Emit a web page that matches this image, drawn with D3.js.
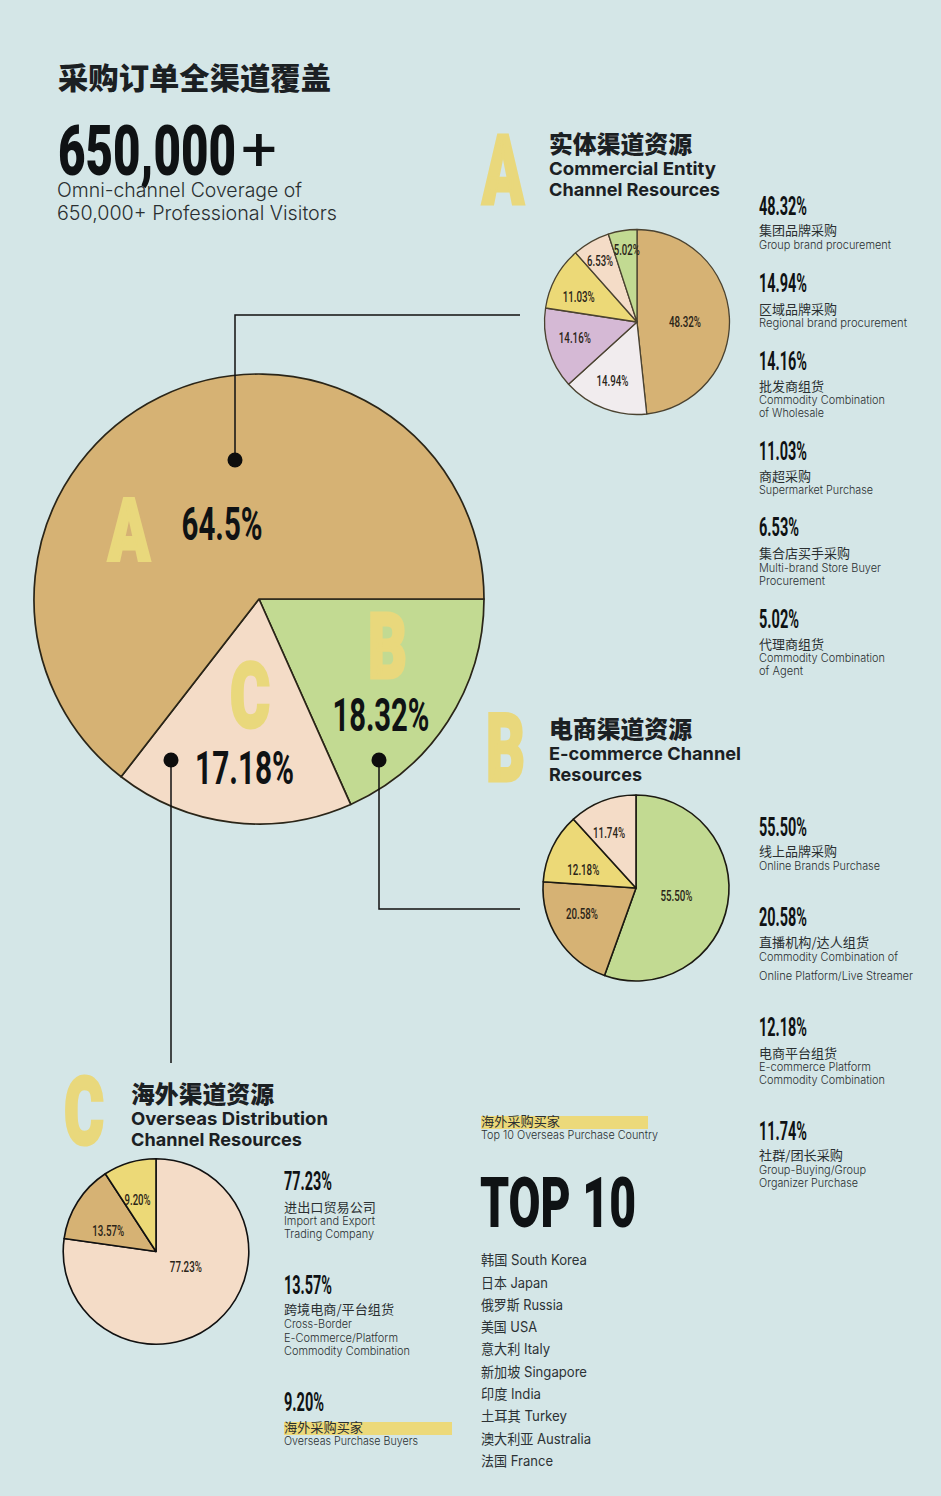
<!DOCTYPE html>
<html lang="zh-CN">
<head>
<meta charset="utf-8">
<title>采购订单全渠道覆盖</title>
<script src="https://cdn.jsdelivr.net/npm/d3@7"></script>
<style>
  html, body { margin: 0; background: #d4e6e7; }
  svg { display: block; }
  text { fill: #1b2023; }
  .num { font-family: "Roboto", sans-serif; font-weight: 700; fill: #0f1214; }
  .huge { font-family: "Roboto", sans-serif; font-weight: 900; fill: #0f1214; }
  .small { font-weight: 500; fill: #2a2418; }
  .plus { font-family: "Roboto", sans-serif; font-weight: 400; fill: #0f1214; }
  .letter { font-family: "Roboto", sans-serif; font-weight: 900; fill: #e9d87c; stroke: #e9d87c; stroke-width: 3; stroke-linejoin: miter; }
  .zh { font-family: "Noto Sans CJK SC", sans-serif; font-weight: 400; fill: #2a2f31; }
  .zhb { font-family: "Noto Sans CJK SC", sans-serif; font-weight: 900; }
  .en { font-family: "Inter", "Noto Sans CJK SC", sans-serif; font-weight: 400; fill: #2c3235; }
  .enl { font-family: "Inter", "Noto Sans CJK SC", sans-serif; font-weight: 300; fill: #2a2f31; }
  .enb { font-family: "Inter", sans-serif; font-weight: 700; }
</style>
</head>
<body>
<svg id="chart" width="941" height="1496"></svg>
<script>
// data
const mainNames = ['B', 'C', 'A'];
const mainValues = [18.32, 17.18, 64.5];
const mainColors = ['#c2da92', '#f4dcc7', '#d6b274'];

const aValues = [48.32, 14.94, 14.16, 11.03, 6.53, 5.02];
const aColors = ['#d6b274', '#f1ecee', '#d5b9d5', '#ecd977', '#f4dcc7', '#c2da92'];
const aZh = ['集团品牌采购', '区域品牌采购', '批发商组货', '商超采购', '集合店买手采购', '代理商组货'];
const aEn = [['Group brand procurement'], ['Regional brand  procurement'], ['Commodity Combination', 'of Wholesale'],
  ['Supermarket Purchase'], ['Multi-brand Store Buyer', 'Procurement'], ['Commodity Combination', 'of Agent']];

const bValues = [55.50, 20.58, 12.18, 11.74];
const bColors = ['#c2da92', '#d6b274', '#ecd977', '#f4dcc7'];
const bZh = ['线上品牌采购', '直播机构/达人组货', '电商平台组货', '社群/团长采购'];
const bEn = [['Online Brands Purchase'], ['Commodity Combination of', 'Online Platform/Live Streamer'],
  ['E-commerce Platform', 'Commodity Combination'], ['Group-Buying/Group', 'Organizer Purchase']];

const cValues = [77.23, 13.57, 9.20];
const cColors = ['#f4dcc7', '#d6b274', '#ecd977'];
const cZh = ['进出口贸易公司', '跨境电商/平台组货', '海外采购买家'];
const cEn = [['Import and Export', 'Trading Company'], ['Cross-Border', 'E-Commerce/Platform', 'Commodity Combination'],
  ['Overseas Purchase Buyers']];

const topZh = ['韩国', '日本', '俄罗斯', '美国', '意大利', '新加坡', '印度', '土耳其', '澳大利亚', '法国'];
const topEn = ['South Korea', 'Japan', 'Russia', 'USA', 'Italy', 'Singapore', 'India', 'Turkey', 'Australia', 'France'];

// layout
const aLayout = { x: 759, rows: [[215, 235, [249]], [292, 314, [327]], [370, 391, [404, 417]], [460, 481, [494]], [536, 558, [572, 585]], [628, 649, [662, 675]]],
  zhEnd: [837, 837, 824, 811, 850, 824], enEnd: [[891], [907], [885, 824], [873], [881, 825], [885, 803]] };
const bLayout = { x: 759, rows: [[836, 856, [870]], [926, 947, [961, 980]], [1036, 1058, [1071, 1084]], [1140, 1160, [1174, 1187]]],
  zhEnd: [837, 869, 837, 843], enEnd: [[880], [898, 913], [871, 885], [866, 858]] };
const cLayout = { x: 284, rows: [[1190, 1212, [1225, 1238]], [1294, 1314, [1328, 1342, 1355]], [1411, 1432, [1445]]],
  zhEnd: [376, 394, 363], enEnd: [[375, 374], [352, 398, 410], [418]] };
const topY = [1265, 1288, 1310, 1332, 1354, 1377, 1399, 1421, 1444, 1466];
const topEnd = [587, 548, 563, 537, 550, 587, 541, 567, 591, 553];

const svg = d3.select('#chart');
svg.append('rect').attr('width', 941).attr('height', 1496).attr('fill', '#d4e6e7');

// text with an exact horizontal extent, the original fonts are narrower than what we have
function put(cls, x, y, size, str, endX) {
  const t = svg.append('text').attr('class', cls).attr('x', x).attr('y', y)
    .attr('font-size', size).text(str);
  if (endX) t.attr('textLength', endX - x).attr('lengthAdjust', 'spacingAndGlyphs');
  return t;
}

function drawPie(opts) {
  const arcs = d3.pie().sort(null).startAngle(opts.start || 0).endAngle((opts.start || 0) + 2 * Math.PI)(opts.values);
  const arc = d3.arc().innerRadius(0).outerRadius(opts.r);
  const g = svg.append('g').attr('transform', `translate(${opts.cx},${opts.cy})`);
  g.selectAll('path').data(arcs).join('path')
    .attr('d', arc)
    .attr('fill', (d, i) => opts.colors[i])
    .attr('stroke', opts.stroke)
    .attr('stroke-width', opts.strokeWidth)
    .attr('stroke-linejoin', 'round');
  // label polar position: [radius, angle offset from slice middle in degrees]
  g.selectAll('text').data(arcs).join('text')
    .attr('class', opts.labelClass)
    .attr('text-anchor', 'middle')
    .attr('font-size', opts.labelSize)
    .attr('textLength', (d, i) => opts.labelWidth[i])
    .attr('lengthAdjust', 'spacingAndGlyphs')
    .attr('x', (d, i) => {
      const a = (d.startAngle + d.endAngle) / 2 + opts.labelPos[i][1] * Math.PI / 180;
      return Math.sin(a) * opts.labelPos[i][0];
    })
    .attr('y', (d, i) => {
      const a = (d.startAngle + d.endAngle) / 2 + opts.labelPos[i][1] * Math.PI / 180;
      return -Math.cos(a) * opts.labelPos[i][0] + opts.labelSize * 0.355;
    })
    .text(d => opts.format(d.value) + '%');
}

function drawLegend(values, zh, en, layout) {
  const fmt = d3.format('.2f');
  values.forEach((v, i) => {
    const str = fmt(v) + '%';
    const row = layout.rows[i];
    put('num', layout.x, row[0], 25, str, layout.x + (str.length === 6 ? 48 : 40));
    put('zh', layout.x, row[1], 13, zh[i], layout.zhEnd[i]);
    en[i].forEach((line, j) => put('enl', layout.x, row[2][j], 11, line, layout.enEnd[i][j]));
  });
}

function connector(points) {
  svg.append('path')
    .attr('d', d3.line()(points))
    .attr('fill', 'none').attr('stroke', '#111').attr('stroke-width', 1.5);
}

function dot(x, y) {
  svg.append('circle').attr('cx', x).attr('cy', y).attr('r', 7.5).attr('fill', '#0d0d0d');
}

// title block
put('zhb', 58, 89, 30, '采购订单全渠道覆盖', 331);
put('huge', 58, 175, 71, '650,000', 236);
put('plus', 241, 170, 62, '+', 277);
put('enl', 57, 197, 19.5, 'Omni-channel Coverage of', 302);
put('enl', 57, 220, 19.5, '650,000+ Professional Visitors', 337);

// main pie
drawPie({
  cx: 259, cy: 599, r: 225, start: Math.PI / 2,
  values: mainValues, colors: mainColors,
  stroke: '#2a2518', strokeWidth: 1.7,
  labelClass: 'num', labelSize: 46, labelWidth: [97, 99, 81],
  labelPos: [[168, 10.5], [169.5, -2], [84, 0]],
  format: d3.format('.2~f')
});
put('letter', 108, 560.5, 88, mainNames[2], 150);
put('letter', 368, 678, 90, mainNames[0], 407);
put('letter', 230, 727, 90, mainNames[1], 270);

// connectors
connector([[520, 315], [235, 315], [235, 460]]);
dot(235, 460);
connector([[520, 909], [379, 909], [379, 760]]);
dot(379, 760);
connector([[171, 1063], [171, 760]]);
dot(171, 760);

// section A
put('letter', 482, 203.5, 96, 'A', 524);
put('zhb', 549, 153, 24, '实体渠道资源', 692);
put('enb', 549, 175, 18, 'Commercial Entity', 716);
put('enb', 549, 196, 18, 'Channel Resources', 720);
drawPie({
  cx: 637, cy: 322, r: 92.5, values: aValues, colors: aColors,
  stroke: '#4a4230', strokeWidth: 1.3,
  labelClass: 'num small', labelSize: 15.5,
  labelWidth: [32, 32, 32, 32, 26, 26],
  labelPos: [[48, 2], [63, 2], [64, 3], [63.5, -5], [72, -1], [73.7, 1]],
  format: d3.format('.2f')
});
drawLegend(aValues, aZh, aEn, aLayout);

// section B
put('letter', 486, 780.5, 94, 'B', 525);
put('zhb', 549, 738, 24, '电商渠道资源', 692);
put('enb', 549, 760, 18, 'E-commerce Channel', 741);
put('enb', 549, 781, 18, 'Resources', 642);
drawPie({
  cx: 636, cy: 888, r: 93, values: bValues, colors: bColors,
  stroke: '#1c1a12', strokeWidth: 1.6,
  labelClass: 'num small', labelSize: 15.5,
  labelWidth: [32, 32, 32, 32],
  labelPos: [[41, 0], [60, 7.5], [56, -6], [62, -4.6]],
  format: d3.format('.2f')
});
drawLegend(bValues, bZh, bEn, bLayout);

// section C
put('letter', 64, 1143.5, 94, 'C', 104);
put('zhb', 131, 1103, 24, '海外渠道资源', 274);
put('enb', 131, 1125, 18, 'Overseas Distribution', 328);
put('enb', 131, 1146, 18, 'Channel Resources', 302);
drawPie({
  cx: 156, cy: 1251.5, r: 92.8, values: cValues, colors: cColors,
  stroke: '#111', strokeWidth: 1.6,
  labelClass: 'num small', labelSize: 15.5,
  labelWidth: [32, 32, 26],
  labelPos: [[33.5, -22], [52, -9], [55, -3]],
  format: d3.format('.2f')
});
svg.append('rect').attr('x', 284).attr('y', 1422).attr('width', 168).attr('height', 13).attr('fill', '#ecd97a');
drawLegend(cValues, cZh, cEn, cLayout);

// top 10 list
svg.append('rect').attr('x', 481).attr('y', 1116).attr('width', 167).attr('height', 13).attr('fill', '#ecd97a');
put('zh', 481, 1126, 13, '海外采购买家', 560);
put('enl', 481, 1139, 11, 'Top 10 Overseas Purchase Country', 658);
put('huge', 480, 1227, 70, 'TOP 10', 636);
topZh.forEach((zh, i) => put('en', 481, topY[i], 14, `${zh} ${topEn[i]}`, topEnd[i]));
</script>
</body>
</html>
